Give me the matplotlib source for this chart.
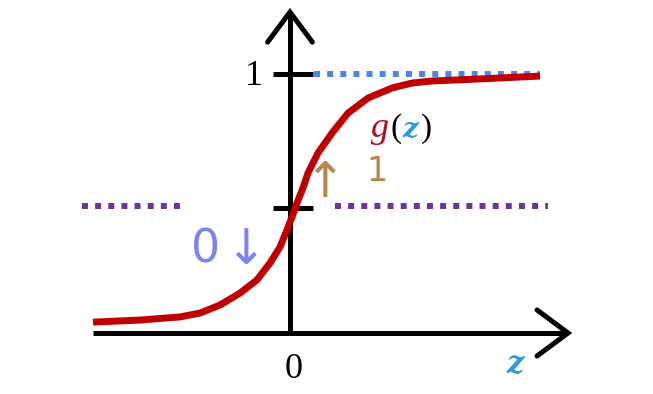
import numpy as np
import matplotlib.pyplot as plt

# Curva sigmoide dibujada a mano
z_curve = [-4.925, -3.75, -2.75, -2.25, -1.75, -1.25, -0.825, -0.5, -0.25,
           -0.075, 0.05, 0.175, 0.325, 0.45, 0.7, 1.05, 1.45, 1.95, 2.55,
           3.05, 3.55, 4.75, 6.25]
g_curve = [0.042, 0.050, 0.062, 0.077, 0.108, 0.154, 0.205, 0.270, 0.332,
           0.398, 0.448, 0.502, 0.560, 0.618, 0.695, 0.772, 0.849, 0.907,
           0.946, 0.965, 0.973, 0.981, 0.992]

# Líneas punteadas (asíntota y nivel medio)
z_top_dots = [0.6, 6.25]
g_top_dots = [1.0, 1.0]
z_mid_left = [-5.2, -2.675]
z_mid_right = [1.125, 6.45]
g_mid = [0.49, 0.49]

# Marcas del eje vertical
tick_values = [1.0, 0.483]
tick_labels = ["1", ""]

red = "#c00000"
blue_dot = "#4a86e8"
purple = "#7030a0"
brown = "#b8864b"
lilac = "#7b85f0"
zblue = "#2b9be0"

fig = plt.figure(figsize=(6.53, 3.94), dpi=100)
ax = fig.add_axes([0, 0, 1, 1])
ax.set_xlim(-7.25, 9.075)
ax.set_ylim(-0.2355, 1.2857)
ax.axis("off")

# Ejes con flechas
lw_axis = 3.6
ax.plot([-4.925, 6.95], [0, 0], color="black", lw=lw_axis, solid_capstyle="butt")
ax.plot([6.175, 6.95, 6.175], [0.089, 0, -0.089], color="black", lw=lw_axis,
        solid_capstyle="round", solid_joinstyle="miter")
ax.plot([0, 0], [0, 1.239], color="black", lw=lw_axis, solid_capstyle="butt")
ax.plot([-0.56, 0, 0.56], [1.123, 1.239, 1.123], color="black", lw=lw_axis,
        solid_capstyle="round", solid_joinstyle="miter")

for v, lab in zip(tick_values, tick_labels):
    ax.plot([-0.425, 0.575], [v, v], color="black", lw=lw_axis, solid_capstyle="butt")
    if lab:
        ax.text(-0.9, v - 0.042, lab, ha="center", va="baseline", fontsize=26,
                family="Liberation Serif")

# Líneas punteadas
dots = dict(lw=4.3, linestyle=(0, (1, 1.2)), dash_capstyle="butt")
ax.plot(z_top_dots, g_top_dots, color=blue_dot, **dots)
ax.plot(z_mid_left, g_mid, color=purple, **dots)
ax.plot(z_mid_right, g_mid, color=purple, **dots)

# Curva
ax.plot(z_curve, g_curve, color=red, lw=5, solid_capstyle="butt",
        solid_joinstyle="round")

# Etiquetas
ax.text(0.1, -0.174, "0", ha="center", va="baseline", fontsize=26,
        family="Liberation Serif")
ax.text(5.625, -0.154, "z", ha="center", va="baseline", fontsize=22,
        family="DejaVu Serif", style="italic", weight="bold", color=zblue)
ax.text(2.25, 0.757, "g", ha="center", va="baseline", fontsize=26,
        family="Liberation Serif", style="italic", color="#b01020")
ax.text(2.65, 0.757, "(", ha="center", va="baseline", fontsize=24,
        family="Liberation Serif", color="black")
ax.text(3.0, 0.757, "z", ha="center", va="baseline", fontsize=20,
        family="DejaVu Serif", style="italic", weight="bold", color=zblue)
ax.text(3.425, 0.757, ")", ha="center", va="baseline", fontsize=24,
        family="Liberation Serif", color="black")

# Anotaciones a mano
ax.text(0.85, 0.579, "↑", ha="center", va="center", fontsize=35, color=brown)
ax.text(2.175, 0.622, "1", ha="center", va="center", fontsize=24, color=brown)
ax.text(-2.1, 0.32, "0", ha="center", va="center", fontsize=33, color=lilac)
ax.text(-1.125, 0.32, "↓", ha="center", va="center", fontsize=35, color=lilac)

fig.savefig("out.png", dpi=100)
